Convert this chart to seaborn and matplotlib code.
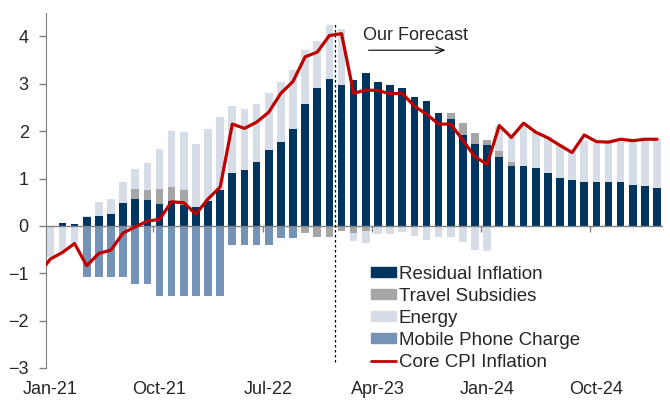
import numpy as np
import pandas as pd
import matplotlib.pyplot as plt
import seaborn as sns
from matplotlib.patches import Patch
from matplotlib.lines import Line2D

# monthly categories Jan-21 .. Mar-25
months = pd.date_range('2021-01-01', '2025-03-01', freq='MS').strftime('%b-%y').tolist()

residual = [0.00, 0.06, 0.04, 0.18, 0.21, 0.25, 0.49, 0.57, 0.55, 0.46,
            0.53, 0.44, 0.39, 0.53, 0.76, 1.11, 1.19, 1.36, 1.60, 1.77,
            2.04, 2.57, 2.91, 3.10, 2.97, 3.09, 3.23, 3.04, 2.97, 2.92,
            2.72, 2.64, 2.38, 2.25, 1.93, 1.72, 1.71, 1.45, 1.26, 1.26,
            1.23, 1.12, 1.01, 0.97, 0.92, 0.93, 0.93, 0.93, 0.86, 0.85, 0.81]
travel = [0, 0, 0, 0, 0, 0, 0, 0.21, 0.21, 0.31,
          0.29, 0.31, 0, 0, 0, 0, 0, 0, 0, 0,
          0, -0.14, -0.24, -0.23, -0.10, -0.14, -0.10, -0.02, 0, 0,
          0, 0, 0, 0.13, 0.24, 0.24, 0.10, 0.14, 0.10, 0,
          0, 0, 0, 0, 0, 0, 0, 0, 0, 0, 0]
energy = [-0.65, -0.54, -0.33, 0.02, 0.30, 0.32, 0.44, 0.42, 0.56, 0.85,
          1.18, 1.23, 1.33, 1.52, 1.55, 1.43, 1.27, 1.22, 1.20, 1.27,
          1.25, 1.14, 1.00, 1.14, 1.19, -0.17, -0.27, -0.16, -0.18, -0.12,
          -0.21, -0.29, -0.23, -0.23, -0.33, -0.51, -0.52, 0.53, 0.52, 0.85,
          0.75, 0.76, 0.73, 0.62, 0.88, 0.83, 0.82, 0.85, 0.92, 0.97, 1.02]
mobile = [0, 0, 0, -1.08, -1.08, -1.08, -1.08, -1.23, -1.23, -1.49,
          -1.49, -1.49, -1.49, -1.49, -1.49, -0.41, -0.41, -0.41, -0.41, -0.26,
          -0.26] + [0] * 30

# core CPI line starts one month earlier (Dec-20), clipped by the axis
core_cpi = [-1.03,
            -0.70, -0.56, -0.37, -0.84, -0.58, -0.51, -0.15, -0.02, 0.10, 0.14,
            0.51, 0.49, 0.25, 0.57, 0.82, 2.15, 2.06, 2.19, 2.40, 2.80,
            3.05, 3.57, 3.67, 4.02, 4.06, 2.80, 2.87, 2.86, 2.79, 2.80,
            2.53, 2.36, 2.15, 2.15, 1.81, 1.46, 1.30, 2.12, 1.87, 2.17,
            1.98, 1.86, 1.70, 1.55, 1.92, 1.78, 1.77, 1.83, 1.80, 1.83, 1.83]

tick_labels = ['Jan-21', 'Oct-21', 'Jul-22', 'Apr-23', 'Jan-24', 'Oct-24']

names = ['Residual Inflation', 'Travel Subsidies', 'Energy', 'Mobile Phone Charge']
colors = ['#003560', '#A6A6A6', '#D6DDE7', '#7593B7']
red = '#C00000'

comp = pd.DataFrame(dict(zip(names, [residual, travel, energy, mobile])))
pos = comp.clip(lower=0).cumsum(axis=1)
neg = comp.clip(upper=0).cumsum(axis=1)
xpos = np.arange(len(months))

sns.set_style('white')
plt.rcParams['font.family'] = ['Liberation Sans', 'DejaVu Sans']

fig = plt.figure(figsize=(6.7, 4), dpi=100)
ax = fig.add_axes([0.0687, 0.08, 0.921, 0.888])

# stacked bars: positives up, negatives down, drawn from the outermost layer in
for stack in (pos, neg):
    for name, c in reversed(list(zip(names, colors))):
        sns.barplot(x=xpos, y=stack[name].values, color=c, saturation=1,
                    width=0.63, native_scale=True, errorbar=None, ax=ax,
                    linewidth=0, zorder=2)

sns.lineplot(x=np.arange(-1, len(months)), y=core_cpi, color=red, lw=2.3,
             ax=ax, zorder=4)

ax.axhline(0, color='#808080', lw=1, zorder=3)

forecast_start = 23.5
ax.axvline(forecast_start, ymin=0.016, ymax=0.975, color='black', lw=0.9,
           ls=(0, (2, 2)), zorder=5)
ax.text(25.8, 4.03, 'Our Forecast', fontsize=13, va='center')
ax.annotate('', xy=(32.8, 3.71), xytext=(26.0, 3.71),
            arrowprops=dict(arrowstyle='->,head_length=0.6,head_width=0.25',
                            lw=0.8, color='black'))

ax.set_xlim(-0.35, 50.5)
ax.set_ylim(-3, 4.5)
ax.set_yticks(range(-3, 5))
ax.set_xticks([months.index(t) for t in tick_labels], tick_labels)
ax.tick_params(axis='x', length=0, pad=9, labelsize=13)
ax.tick_params(axis='y', length=5, width=1, color='#808080', pad=7.5,
               labelsize=13, left=True)
for s in ['top', 'right', 'bottom']:
    ax.spines[s].set_visible(False)
ax.spines['left'].set_color('#808080')
ax.set_xlabel('')
ax.set_ylabel('')

# small category-boundary ticks on the zero line
sec = ax.secondary_xaxis(0, transform=ax.transData)
sec.set_xticks([months.index(t) - 0.5 for t in tick_labels[1:]])
sec.tick_params(axis='x', length=4, width=1, color='#808080', labelbottom=False)
sec.spines['bottom'].set_visible(False)

handles = [Patch(color=c, label=n) for n, c in zip(names, colors)]
handles.append(Line2D([], [], color=red, lw=2, label='Core CPI Inflation'))
ax.legend(handles=handles, loc='lower left', bbox_to_anchor=(0.505, -0.045),
          frameon=False, fontsize=13.5, handlelength=1.35, handleheight=0.45,
          handletextpad=0.15, labelspacing=0.27, borderpad=0.2)

plt.savefig('out.png', dpi=100)
